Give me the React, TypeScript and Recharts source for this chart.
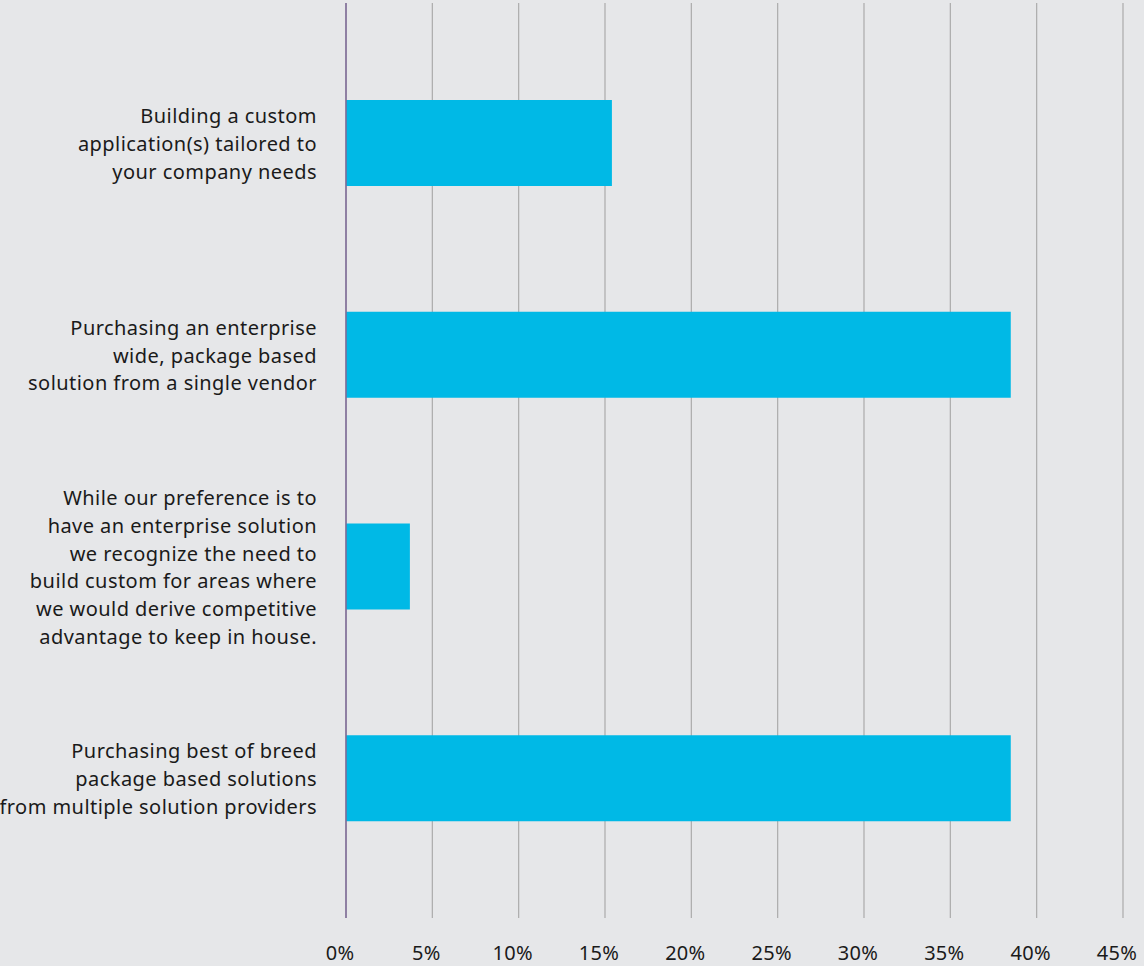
import { BarChart, Bar, XAxis, YAxis, CartesianGrid } from "recharts";

const categories = [
  "Building a custom\napplication(s) tailored to\nyour company needs",
  "Purchasing an enterprise\nwide, package based\nsolution from a single vendor",
  "While our preference is to\nhave an enterprise solution\nwe recognize the need to\nbuild custom for areas where\nwe would derive competitive\nadvantage to keep in house.",
  "Purchasing best of breed\npackage based solutions\nfrom multiple solution providers",
];
const shares = [15.4, 38.5, 3.7, 38.5];
const percentTicks = [0, 5, 10, 15, 20, 25, 30, 35, 40, 45];

const data = categories.map((name, i) => ({ name, value: shares[i] }));

const FONT = "'Noto Sans', sans-serif";
const LINE_H = 27.7;

function CategoryTick(props: any) {
  const { x, y, payload } = props;
  const lines: string[] = String(payload.value).split("\n");
  const startY = y - ((lines.length - 1) * LINE_H) / 2;
  return (
    <text
      x={x}
      y={startY}
      textAnchor="end"
      fill="#1a1a1a"
      fontSize={20}
      letterSpacing={0.45}
      fontFamily={FONT}
      dominantBaseline="central"
    >
      {lines.map((l, i) => (
        <tspan key={i} x={x} y={startY + i * LINE_H} dominantBaseline="central">
          {l}
        </tspan>
      ))}
    </text>
  );
}

export default function App() {
  return (
    <div style={{ width: 1144, height: 966, background: "#e6e7e9" }}>
      <style>{"body{margin:0}"}</style>
      <BarChart
        width={1144}
        height={966}
        data={data}
        layout="vertical"
        margin={{ top: 3, right: 21, left: 0, bottom: 0 }}
      >
        <CartesianGrid horizontal={false} stroke="#ababab" strokeWidth={1.2} />
        <XAxis
          type="number"
          domain={[0, 45]}
          ticks={percentTicks}
          tickFormatter={(v) => `${v}%`}
          axisLine={false}
          tickLine={false}
          tickSize={0}
          tickMargin={28}
          height={48}
          interval={0}
          tick={{ fill: "#1a1a1a", fontSize: 20, fontFamily: FONT, dx: -6, letterSpacing: 0.3 }}
        />
        <YAxis
          type="category"
          dataKey="name"
          width={346}
          axisLine={{ stroke: "#7e6a98", strokeWidth: 1.5 }}
          tickLine={false}
          tickSize={0}
          tickMargin={29}
          padding={{ top: 34, bottom: 34 }}
          interval={0}
          tick={<CategoryTick />}
        />
        <Bar dataKey="value" fill="#00b9e6" barSize={86} isAnimationActive={false} />
      </BarChart>
    </div>
  );
}
